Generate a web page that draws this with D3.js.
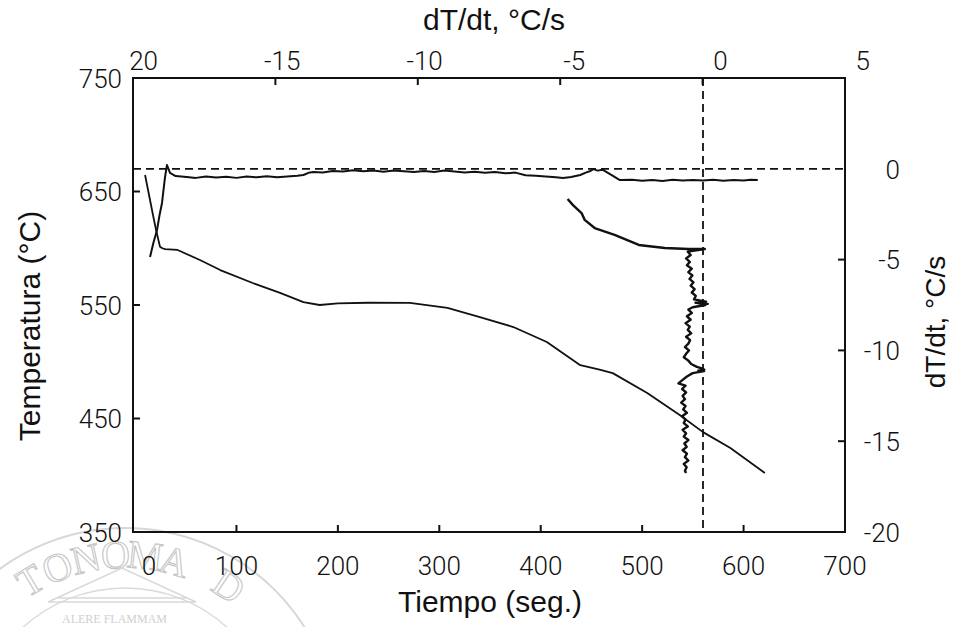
<!DOCTYPE html>
<html><head><meta charset="utf-8">
<script src="https://cdn.jsdelivr.net/npm/d3@7"></script>
<style>body{margin:0;background:#fff}</style>
</head><body>
<svg id="c" width="956" height="627"></svg>
<script>
// ---------- data ----------
const timeTicks = [0,100,200,300,400,500,600,700];
const tempTicks = [350,450,550,650,750];
const rateTicksTop = [-20,-15,-10,-5,0,5];
const rateTickLabelsTop = ["20","-15","-10","-5","0","5"];
const rateTicksRight = [0,-5,-10,-15,-20];

// Temperature vs time (left / bottom axes)
const tempTime   = [9.9,14,18,21,24.6,27,29.6,42,64,84,116,143,166,182,200,230,271,308,340,373,406,439,458,471,505,537,560,587,621];
const tempValues = [664.5,646,628,615,601.4,600,599.3,598.5,589.6,580.8,569.4,560.6,552.6,550,551.5,552,551.8,547.4,539.4,530.6,517.4,497,493,490,472.5,453,438,424,402];

// dT/dt vs time (right / bottom axes)
const rateTime   = [14.8,18,21.7,24,26.6,28,29.6,31.5,34.5,40,51,60,70,80,90,100,110,120,130,140,150,160,166,171,176,185,195,205,215,225,235,245,255,265,275,285,295,305,315,325,335,345,355,365,375,385,395,405,415,422,430,439,445,449,452,456,461,465,470,478,490,500,510,520,530,540,550,560,570,580,590,600,607,614];
const rateValues = [-4.86,-4.1,-3.37,-2.6,-1.88,-1.2,-0.45,0.21,-0.23,-0.4,-0.45,-0.5,-0.42,-0.48,-0.44,-0.5,-0.43,-0.47,-0.41,-0.46,-0.42,-0.38,-0.34,-0.22,-0.18,-0.2,-0.12,-0.15,-0.08,-0.13,-0.1,-0.16,-0.09,-0.14,-0.18,-0.12,-0.17,-0.1,-0.15,-0.2,-0.16,-0.22,-0.18,-0.25,-0.21,-0.35,-0.38,-0.42,-0.46,-0.51,-0.45,-0.34,-0.2,-0.12,-0.02,-0.1,-0.05,-0.18,-0.35,-0.62,-0.6,-0.66,-0.62,-0.67,-0.6,-0.65,-0.62,-0.64,-0.6,-0.66,-0.62,-0.65,-0.6,-0.62];

// dT/dt vs temperature (top / left axes)
const rvtRate = [-4.74,-4.55,-4.25,-4.14,-3.79,-3.09,-2.24,-1.33,-0.49,0.08,
  -0.52,-0.42,-0.58,-0.45,-0.55,-0.38,-0.5,-0.36,-0.46,-0.32,-0.42,-0.28,-0.38,-0.24,-0.3,
  0.12,-0.25,0.18,-0.1,0.1,-0.35,
  -0.5,-0.38,-0.55,-0.42,-0.6,-0.45,-0.52,-0.4,-0.58,-0.44,-0.5,-0.62,-0.48,-0.58,-0.66,-0.5,-0.4,
  -0.2,0.0,0.06,-0.15,0.05,-0.35,
  -0.55,-0.7,-0.85,-0.6,-0.72,-0.58,-0.7,-0.62,-0.75,-0.6,-0.68,-0.55,-0.72,-0.6,-0.66,-0.52,-0.7,-0.58,-0.66,-0.5,-0.64,-0.56,-0.7,-0.55,-0.62,-0.5,-0.66,-0.56,-0.62,-0.58];
const rvtTemp = [643.4,638,631,625,617.8,611.7,602.9,600.2,599.3,599.3,
  597,594,591,588,585,582,579,576,573,570,567,564,561,558,555,
  553,552,551,550.5,550,548,
  546,543,540,537,534,531,528,525,522,519,516,513,510,507,504,501,498,
  495.5,494,493,492.2,491.8,490,
  487,484,481,479,476,473,470,467,464,461,458,455,452,449,446,443,440,437,434,431,428,425,422,419,416,413,410,407,404,402];

const zeroTime = 560;   // vertical dashed reference (dT/dt = 0 on top axis)
const zeroRate = 0;     // horizontal dashed reference

// ---------- layout ----------
const L = 133, R = 845, T = 78, B = 532;
const svg = d3.select("#c");
const x  = d3.scaleLinear([-2,700],[L,R]);
const xT = d3.scaleLinear([-20,5],[L,R]);
const y  = d3.scaleLinear([350,750],[B,T]);
const yR = d3.scaleLinear([-20,5],[B,T]);

// ---------- faint watermark seal (background of the scanned page) ----------
const wm = svg.append("g").attr("opacity",0.6);
const cx = 125, cy = 740;
wm.append("circle").attr("cx",cx).attr("cy",cy).attr("r",212).attr("fill","none").attr("stroke","#bdbdbd").attr("stroke-width",2);
wm.append("circle").attr("cx",cx).attr("cy",cy).attr("r",152).attr("fill","none").attr("stroke","#c4c4c4").attr("stroke-width",1.5);
const sealText = "TONOMA D";
const letterR = 186, a0 = -120.7, step = 9.24;
sealText.split("").forEach((ch,i)=>{
  if(ch===" ") return;
  const a = (a0 + i*step)*Math.PI/180;
  wm.append("text")
    .attr("transform",`translate(${cx+letterR*Math.cos(a)},${cy+letterR*Math.sin(a)}) rotate(${a0+i*step+90})`)
    .attr("text-anchor","middle").attr("dy","0.35em")
    .attr("font-family","Liberation Serif").attr("font-size",40)
    .attr("fill","none").attr("stroke","#a0a0a0").attr("stroke-width",1.1)
    .text(ch);
});
wm.append("path").attr("d","M48,602 L122,568 L196,602 Z M58,598 L186,598").attr("fill","none").attr("stroke","#c0c0c0").attr("stroke-width",1.5);
wm.append("text").attr("x",62).attr("y",623).attr("font-family","Liberation Serif").attr("font-size",12).attr("fill","#b0b0b0").text("ALERE FLAMMAM");

// ---------- frame ----------
const ax = svg.append("g").attr("stroke","#111").attr("stroke-width",2).attr("fill","none");
ax.append("rect").attr("x",L).attr("y",T).attr("width",R-L).attr("height",B-T);
ax.selectAll(".tb").data(timeTicks.slice(1,-1)).join("line")
  .attr("x1",d=>x(d)).attr("x2",d=>x(d)).attr("y1",B).attr("y2",B-7);
ax.selectAll(".tt").data(rateTicksTop.slice(1,-1)).join("line")
  .attr("x1",d=>xT(d)).attr("x2",d=>xT(d)).attr("y1",T).attr("y2",T+7);
ax.selectAll(".tl").data(tempTicks.slice(1,-1)).join("line")
  .attr("x1",L).attr("x2",L+7).attr("y1",d=>y(d)).attr("y2",d=>y(d));
ax.selectAll(".tr").data(rateTicksRight.slice(1,-1)).join("line")
  .attr("x1",R-7).attr("x2",R).attr("y1",d=>yR(d)).attr("y2",d=>yR(d));

// ---------- tick labels ----------
function lab(g){ return g.attr("font-family","Roboto").attr("font-weight",300).attr("font-size",26).attr("fill","#111"); }
lab(svg.append("g")).selectAll("text").data(timeTicks).join("text")
  .attr("x",d=>x(d)).attr("dx",(d,i)=>i===0?14:0).attr("y",575).attr("text-anchor","middle").text(d=>d);
lab(svg.append("g")).selectAll("text").data(rateTicksTop).join("text")
  .attr("x",d=>xT(d)+25).attr("y",70).attr("text-anchor","end").text((d,i)=>rateTickLabelsTop[i]);
lab(svg.append("g")).selectAll("text").data(tempTicks).join("text")
  .attr("x",122).attr("y",d=>y(d)).attr("dy","0.38em").attr("text-anchor","end").text(d=>d);
lab(svg.append("g")).selectAll("text").data(rateTicksRight).join("text")
  .attr("x",900).attr("y",d=>yR(d)).attr("dy","0.38em").attr("text-anchor","end").text(d=>d);

// ---------- axis titles ----------
const tf = "Liberation Sans";
svg.append("text").attr("x",494).attr("y",30).attr("text-anchor","middle").attr("font-family",tf).attr("font-size",30).attr("fill","#111").text("dT/dt, °C/s");
svg.append("text").attr("x",490).attr("y",612).attr("text-anchor","middle").attr("font-family",tf).attr("font-size",30).attr("fill","#111").text("Tiempo (seg.)");
svg.append("text").attr("transform","translate(40,326) rotate(-90)").attr("text-anchor","middle").attr("font-family",tf).attr("font-size",30).attr("fill","#111").text("Temperatura (°C)");
svg.append("text").attr("transform","translate(945,322) rotate(-90)").attr("text-anchor","middle").attr("font-family",tf).attr("font-size",28).attr("fill","#111").text("dT/dt, °C/s");

// ---------- dashed reference lines ----------
svg.append("line").attr("x1",L).attr("x2",R).attr("y1",yR(zeroRate)).attr("y2",yR(zeroRate))
  .attr("stroke","#111").attr("stroke-width",1.8).attr("stroke-dasharray","8,5");
svg.append("line").attr("x1",x(zeroTime)).attr("x2",x(zeroTime)).attr("y1",T).attr("y2",B)
  .attr("stroke","#111").attr("stroke-width",1.8).attr("stroke-dasharray","8,5");

// ---------- curves ----------
const curves = svg.append("g").attr("fill","none").attr("stroke","#111").attr("stroke-linejoin","round");
curves.append("path").datum(d3.zip(tempTime,tempValues)).attr("stroke-width",1.8)
  .attr("d",d3.line().x(d=>x(d[0])).y(d=>y(d[1])));
curves.append("path").datum(d3.zip(rateTime,rateValues)).attr("stroke-width",2)
  .attr("d",d3.line().x(d=>x(d[0])).y(d=>yR(d[1])));
curves.append("path").datum(d3.zip(rvtRate,rvtTemp)).attr("stroke-width",2.4)
  .attr("d",d3.line().x(d=>xT(d[0])).y(d=>y(d[1])));
</script>
</body></html>
